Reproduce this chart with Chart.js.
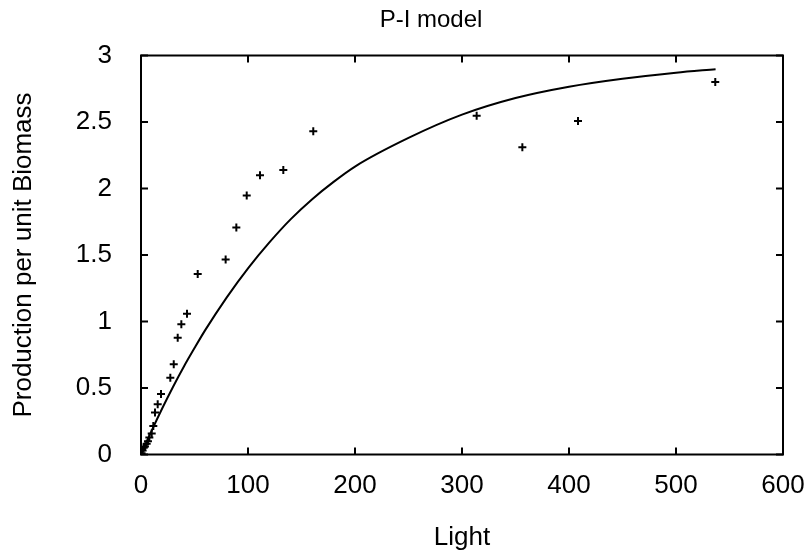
<!DOCTYPE html>
<html>
<head>
<meta charset="utf-8">
<script src="https://cdn.jsdelivr.net/npm/chart.js@4/dist/chart.umd.min.js"></script>
<style>
html,body{margin:0;padding:0;background:#fff;}
#c{display:block;}
</style>
</head>
<body>
<canvas id="c" width="807" height="554"></canvas>
<script>
// Observed data (crosses)
const lightObs = [0.5, 1.5, 2.5, 3.7, 5.3, 6.5, 7.8, 10.0, 11.5, 13.1, 15.6, 18.7, 27.4, 30.6, 34.3, 37.7, 43.0, 53.0, 79.1, 89.1, 98.8, 111.2, 133.0, 161.0, 313.7, 356.4, 408.4, 536.7];
const prodObs  = [0.01, 0.03, 0.05, 0.06, 0.08, 0.10, 0.127, 0.157, 0.214, 0.315, 0.377, 0.455, 0.577, 0.678, 0.877, 0.979, 1.059, 1.357, 1.466, 1.706, 1.947, 2.099, 2.139, 2.43, 2.547, 2.31, 2.507, 2.80];
// Model curve
const lightFit = [0, 10, 20, 30, 40, 50, 60, 80, 100, 120, 140, 160, 180, 200, 250, 300, 350, 400, 450, 500, 537];
const prodFit  = [0, 0.18, 0.35, 0.51, 0.66, 0.80, 0.935, 1.18, 1.40, 1.595, 1.77, 1.92, 2.05, 2.165, 2.38, 2.555, 2.68, 2.765, 2.825, 2.87, 2.897];
// Axes
const xTicks = [0, 100, 200, 300, 400, 500, 600];
const yTicks = [0, 0.5, 1, 1.5, 2, 2.5, 3];
const titleText = 'P-I model';
const xTitle = 'Light';
const yTitle = 'Production per unit Biomass';

const FONT = 'Liberation Sans, Arial, Helvetica, sans-serif';
const FS = 26;

const framePlugin = {
  id: 'frame',
  afterLayout(chart) {
    if (chart.titleBlock) { chart.titleBlock.left = 55; chart.titleBlock.right = 807; }
  },
  afterDatasetsDraw(chart) {
    const {ctx, chartArea: a, scales: {x, y}} = chart;
    ctx.save();
    ctx.strokeStyle = '#000';
    ctx.lineWidth = 2;
    ctx.strokeRect(a.left, a.top, a.right - a.left, a.bottom - a.top);
    const L = 7;
    ctx.beginPath();
    xTicks.forEach(v => {
      const px = x.getPixelForValue(v);
      ctx.moveTo(px, a.bottom); ctx.lineTo(px, a.bottom - L);
      ctx.moveTo(px, a.top); ctx.lineTo(px, a.top + L);
    });
    yTicks.forEach(v => {
      const py = y.getPixelForValue(v);
      ctx.moveTo(a.left, py); ctx.lineTo(a.left + L, py);
      ctx.moveTo(a.right, py); ctx.lineTo(a.right - L, py);
    });
    ctx.stroke();
    ctx.restore();
  }
};

new Chart(document.getElementById('c'), {
  type: 'scatter',
  data: {
    datasets: [
      {
        label: 'model',
        type: 'line',
        data: lightFit.map((v, i) => ({x: v, y: prodFit[i]})),
        borderColor: '#000',
        borderWidth: 2,
        pointRadius: 0,
        fill: false,
        cubicInterpolationMode: 'monotone'
      },
      {
        label: 'data',
        data: lightObs.map((v, i) => ({x: v, y: prodObs[i]})),
        pointStyle: 'cross',
        pointRadius: 4,
        borderColor: '#000',
        backgroundColor: '#000',
        pointBorderWidth: 2
      }
    ]
  },
  options: {
    responsive: false,
    animation: false,
    devicePixelRatio: 1,
    layout: {padding: {left: 0, right: 24, top: 0, bottom: 0}},
    plugins: {
      legend: {display: false},
      tooltip: {enabled: false},
      title: {
        display: true,
        text: titleText,
        color: '#000',
        font: {family: FONT, size: 24, weight: 'normal', lineHeight: 1.2},
        padding: {top: 6, bottom: 20.7}
      }
    },
    scales: {
      x: {
        type: 'linear',
        min: 0, max: 600,
        afterBuildTicks: s => { s.ticks = xTicks.map(v => ({value: v})); },
        afterFit: s => { s.height = 99.5; s.paddingLeft = 0; s.paddingRight = 0; },
        grid: {display: false, drawTicks: false},
        border: {display: false},
        ticks: {color: '#000', font: {family: FONT, size: FS}, padding: 16, maxRotation: 0, callback: v => String(v)},
        title: {display: true, text: xTitle, color: '#000', font: {family: FONT, size: FS}, padding: {top: 0, bottom: 1}}
      },
      y: {
        type: 'linear',
        min: 0, max: 3,
        afterBuildTicks: s => { s.ticks = yTicks.map(v => ({value: v})); },
        afterFit: s => { s.width = 141; s.paddingTop = 0; s.paddingBottom = 0; },
        grid: {display: false, drawTicks: false},
        border: {display: false},
        ticks: {color: '#000', font: {family: FONT, size: FS}, padding: 29, callback: v => String(v)},
        title: {display: true, text: yTitle, color: '#000', font: {family: FONT, size: FS}, padding: {top: 8, bottom: 0}}
      }
    }
  },
  plugins: [framePlugin]
});
</script>
</body>
</html>
